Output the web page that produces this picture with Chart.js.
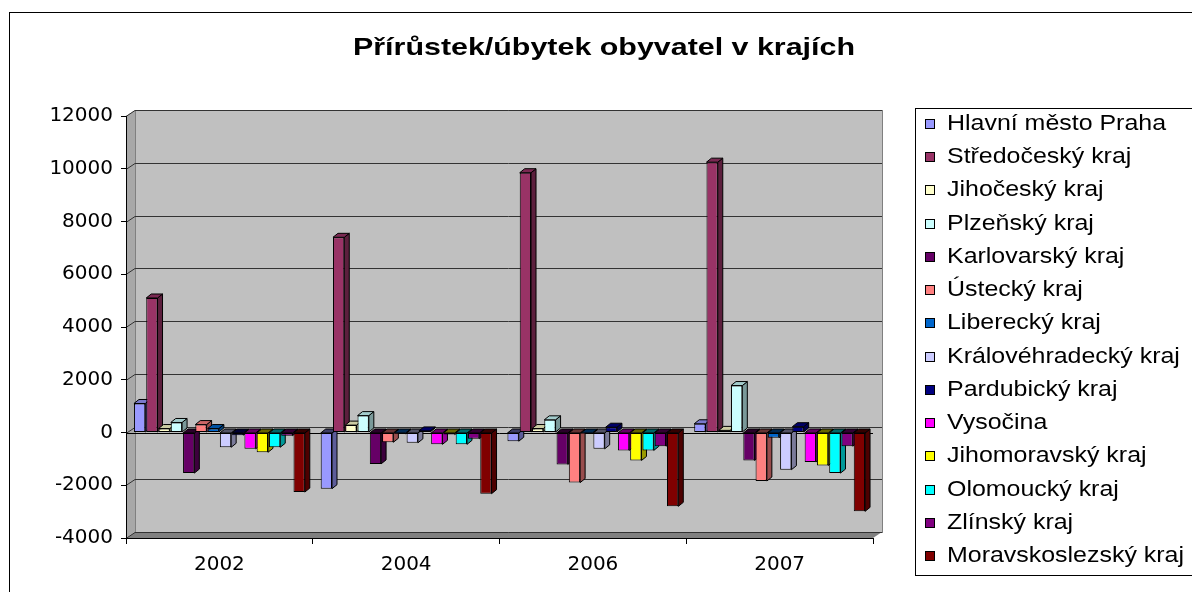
<!DOCTYPE html>
<html lang="cs">
<head>
<meta charset="utf-8">
<title>Přírůstek/úbytek obyvatel v krajích</title>
<script src="https://cdn.jsdelivr.net/npm/chart.js@4.4.1/dist/chart.umd.min.js"></script>
<style>
    html, body { margin: 0; padding: 0; background: #fff; }
    canvas { display: block; }
</style>
</head>
<body>
<canvas id="graf" width="1192" height="592"></canvas>
<script>
// data
var roky = ['2002', '2004', '2006', '2007'];
var kraje = [
    'Hlavní město Praha', 'Středočeský kraj', 'Jihočeský kraj', 'Plzeňský kraj',
    'Karlovarský kraj', 'Ústecký kraj', 'Liberecký kraj', 'Královéhradecký kraj',
    'Pardubický kraj', 'Vysočina', 'Jihomoravský kraj', 'Olomoucký kraj',
    'Zlínský kraj', 'Moravskoslezský kraj'
];
var prirustek2002 = [1100, 5100, 150, 380, -1540, 300, 150, -560, -100, -620, -750, -560, -120, -2260];
var prirustek2004 = [-2130, 7400, 280, 640, -1190, -370, -50, -390, 60, -450, -80, -450, -240, -2320];
var prirustek2006 = [-330, 9850, 150, 480, -1210, -1900, -30, -620, 200, -680, -1060, -680, -520, -2800];
var prirustek2007 = [330, 10250, 80, 1780, -1060, -1840, -200, -1410, 220, -1120, -1250, -1540, -520, -2990];
var osaMin = -4000;
var osaMax = 12000;
var osaKrok = 2000;

var barvy = [
    '#9999FF', '#993366', '#FFFFCC', '#CCFFFF', '#660066', '#FF8080', '#0066CC',
    '#CCCCFF', '#000080', '#FF00FF', '#FFFF00', '#00FFFF', '#800080', '#800000'
];

// hloubka sloupců a stěny (3D efekt)
var SLOUPEC_DX = 5, SLOUPEC_DY = -4;
var STENA_DX = 9, STENA_DY = -6;

function ztmavit(hex, f) {
    var n = parseInt(hex.slice(1), 16);
    var r = Math.round(((n >> 16) & 255) * f);
    var g = Math.round(((n >> 8) & 255) * f);
    var b = Math.round((n & 255) * f);
    return 'rgb(' + r + ',' + g + ',' + b + ')';
}

function polygon(ctx, body, vypln) {
    ctx.beginPath();
    ctx.moveTo(body[0][0], body[0][1]);
    for (var i = 1; i < body.length; i++) ctx.lineTo(body[i][0], body[i][1]);
    ctx.closePath();
    ctx.fillStyle = vypln;
    ctx.fill();
}

// pozadí: rámeček, stěna, podlaha, mřížka, nadpis
var pozadi3d = {
    id: 'pozadi3d',
    beforeDraw: function (chart) {
        var ctx = chart.ctx, a = chart.chartArea, osaY = chart.scales.y;
        ctx.save();
        ctx.fillStyle = '#fff';
        ctx.fillRect(0, 0, chart.width, chart.height);
        ctx.strokeStyle = '#000';
        ctx.lineWidth = 1;
        ctx.strokeRect(9.5, 12.5, 1300, 700);

        polygon(ctx, [[a.left, a.top], [a.left + STENA_DX, a.top + STENA_DY],
            [a.left + STENA_DX, a.bottom + STENA_DY], [a.left, a.bottom]], '#a8a8a8');
        ctx.fillStyle = '#c0c0c0';
        ctx.fillRect(a.left + STENA_DX, a.top + STENA_DY, a.right - a.left, a.bottom - a.top);
        polygon(ctx, [[a.left, a.bottom], [a.left + STENA_DX, a.bottom + STENA_DY],
            [a.right + STENA_DX, a.bottom + STENA_DY], [a.right, a.bottom]], '#808080');

        ctx.strokeStyle = '#808080';
        ctx.strokeRect(a.left + STENA_DX + 0.5, a.top + STENA_DY + 0.5, a.right - a.left, a.bottom - a.top);

        ctx.strokeStyle = '#333';
        osaY.ticks.forEach(function (t) {
            var py = Math.round(osaY.getPixelForValue(t.value)) + 0.5;
            ctx.beginPath();
            ctx.moveTo(a.left, py);
            ctx.lineTo(a.left + STENA_DX, py + STENA_DY);
            ctx.lineTo(a.right + STENA_DX, py + STENA_DY);
            ctx.stroke();
        });

        ctx.fillStyle = '#000';
        ctx.font = 'bold 24px "Liberation Sans", Arial, sans-serif';
        var nadpis = 'Přírůstek/úbytek obyvatel v krajích';
        var sx = 502 / ctx.measureText(nadpis).width;
        ctx.translate(353, 55);
        ctx.scale(sx, 1);
        ctx.textBaseline = 'alphabetic';
        ctx.fillText(nadpis, 0, 0);
        ctx.restore();
    },
    beforeDatasetsDraw: function (chart) {
        var ctx = chart.ctx, a = chart.chartArea, osaY = chart.scales.y;
        ctx.save();
        var y0 = Math.round(osaY.getPixelForValue(0)) + 0.5;
        ctx.strokeStyle = '#000';
        ctx.lineWidth = 1;
        ctx.beginPath();
        ctx.moveTo(a.left, y0);
        ctx.lineTo(a.right, y0);
        ctx.stroke();

        chart.data.datasets.forEach(function (ds, i) {
            var meta = chart.getDatasetMeta(i);
            meta.data.forEach(function (bar, j) {
                var p = bar.getProps(['x', 'y', 'base', 'width'], true);
                var l = p.x - p.width / 2, r = p.x + p.width / 2;
                var horni = Math.min(p.y, p.base), dolni = Math.max(p.y, p.base);
                var zaporny = ds.data[j] < 0;
                var bok = [[r, horni], [r + SLOUPEC_DX, horni + SLOUPEC_DY],
                    [r + SLOUPEC_DX, dolni + SLOUPEC_DY], [r, dolni]];
                var vrch = [[l, horni], [l + SLOUPEC_DX, horni + SLOUPEC_DY],
                    [r + SLOUPEC_DX, horni + SLOUPEC_DY], [r, horni]];
                polygon(ctx, bok, ztmavit(ds.backgroundColor, 0.6));
                ctx.stroke();
                polygon(ctx, vrch, ztmavit(ds.backgroundColor, zaporny ? 0.4 : 0.8));
                ctx.stroke();
            });
        });
        ctx.restore();
    },
    afterDraw: function (chart) {
        // legenda
        var ctx = chart.ctx;
        ctx.save();
        ctx.strokeStyle = '#000';
        ctx.lineWidth = 1;
        ctx.strokeRect(915.5, 108.5, 400, 467);
        ctx.font = '22px "Liberation Sans", Arial, sans-serif';
        ctx.textBaseline = 'alphabetic';
        var sx = 219 / ctx.measureText(chart.data.datasets[0].label).width;
        chart.data.datasets.forEach(function (ds, i) {
            var yc = Math.round(124 + i * 33.23);
            ctx.fillStyle = ds.backgroundColor;
            ctx.fillRect(925, yc - 5, 10, 10);
            ctx.strokeRect(925.5, yc - 4.5, 9, 9);
            ctx.save();
            ctx.translate(947, yc + 6);
            ctx.scale(sx, 1);
            ctx.fillStyle = '#000';
            ctx.fillText(ds.label, 0, 0);
            ctx.restore();
        });
        ctx.restore();
    }
};

var datasety = kraje.map(function (kraj, i) {
    return {
        label: kraj,
        data: [prirustek2002[i], prirustek2004[i], prirustek2006[i], prirustek2007[i]],
        backgroundColor: barvy[i],
        borderColor: '#000',
        borderWidth: 1,
        borderSkipped: false,
        categoryPercentage: 0.92,
        barPercentage: 0.92
    };
});

new Chart(document.getElementById('graf').getContext('2d'), {
    type: 'bar',
    data: { labels: roky, datasets: datasety },
    options: {
        responsive: false,
        animation: false,
        devicePixelRatio: 1,
        layout: { padding: { left: 0, top: 116, right: 319, bottom: 0 } },
        plugins: {
            legend: { display: false },
            title: { display: false },
            tooltip: { enabled: false }
        },
        scales: {
            x: {
                grid: { drawOnChartArea: false, drawTicks: true, tickLength: 6, color: '#000' },
                border: { display: true, color: '#000' },
                ticks: {
                    color: '#000',
                    padding: 9,
                    font: { family: '"DejaVu Sans", sans-serif', size: 20 }
                },
                afterFit: function (scale) { scale.height = 54; }
            },
            y: {
                min: osaMin,
                max: osaMax,
                grid: { drawOnChartArea: false, drawTicks: true, tickLength: 5, color: '#000' },
                border: { display: true, color: '#000' },
                ticks: {
                    stepSize: osaKrok,
                    color: '#000',
                    padding: 8,
                    font: { family: '"DejaVu Sans", sans-serif', size: 20 },
                    callback: function (v) { return String(v); }
                },
                afterFit: function (scale) { scale.width = 126; }
            }
        }
    },
    plugins: [pozadi3d]
});
</script>
</body>
</html>
